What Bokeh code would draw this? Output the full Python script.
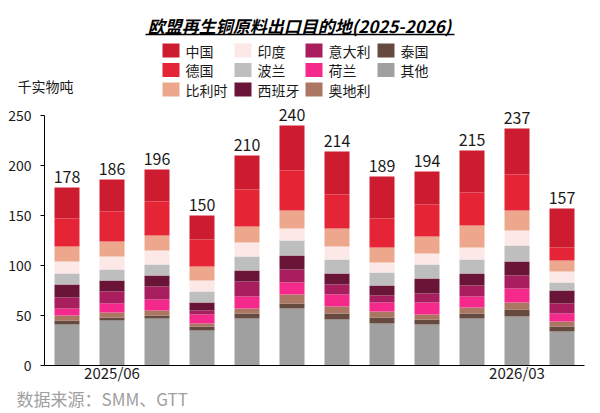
from bokeh.plotting import figure
from bokeh.models import Range1d, FixedTicker, ColumnDataSource
from bokeh.embed import file_html
from bokeh.resources import INLINE
from bokeh.core.properties import value

# ---------------- data ----------------
months = ["2025/05", "2025/06", "2025/07", "2025/08", "2025/09", "2025/10",
          "2025/11", "2025/12", "2026/01", "2026/02", "2026/03", "2026/04"]
tick_labels = ["2025/06", "2026/03"]
y_ticks = [0, 50, 100, 150, 200, 250]

# stack order bottom -> top
series = ["其他", "泰国", "奥地利", "荷兰", "意大利", "西班牙",
          "波兰", "印度", "比利时", "德国", "中国"]
colors = ["#A0A0A0", "#664A3F", "#AB7763", "#F5298C", "#A81E5E", "#6A1538",
          "#BEBEBE", "#FCE8E7", "#ECA78C", "#E52536", "#CD1C30"]

other    = [41, 45, 47, 35, 47, 57, 46, 42, 41, 47, 49, 34]
thailand = [4, 3, 3, 4, 5, 5, 6, 6, 5, 5, 7, 5]
austria  = [5, 5, 5, 3, 5, 9, 7, 6, 5, 6, 7, 5]
netherl  = [7, 9, 11, 9, 12, 12, 12, 9, 12, 11, 14, 8]
italy    = [11, 12, 13, 4, 15, 13, 10, 7, 9, 11, 13, 10]
spain    = [13, 11, 11, 8, 11, 14, 11, 10, 15, 12, 14, 13]
poland   = [11, 11, 11, 11, 14, 15, 14, 13, 14, 14, 16, 8]
india    = [12, 13, 14, 11, 14, 12, 13, 10, 11, 12, 15, 11]
belgium  = [15, 15, 15, 14, 16, 18, 18, 15, 17, 22, 20, 11]
germany  = [28, 30, 34, 27, 37, 40, 34, 29, 32, 33, 36, 13]
china    = [31, 32, 32, 24, 34, 45, 43, 42, 33, 42, 46, 39]

values = [other, thailand, austria, netherl, italy, spain,
          poland, india, belgium, germany, china]

title_text = "欧盟再生铜原料出口目的地(2025-2026)"
unit_text = "千实物吨"
source_text = "数据来源：SMM、GTT"

FONT = "Noto Sans CJK SC"
TXT = "#1a1a1a"

# ---------------- geometry: frame covers the whole canvas ----------------
W, H = 592, 410
AX_LEFT, AX_RIGHT, AX_BOTTOM, AX_TOP = 44, 584, 365, 115   # plot area in canvas px
NCAT = len(months)
SLOT = (AX_RIGHT - AX_LEFT) / NCAT          # px per category
Y_MAX = 250
PXY = (AX_BOTTOM - AX_TOP) / Y_MAX          # px per value unit


def xd(px):
    return (px - AX_LEFT) / SLOT - 0.5


def yd(py):
    return (AX_BOTTOM - py) / PXY


p = figure(width=W, height=H, output_backend="svg", toolbar_location=None,
           x_range=Range1d(xd(0), xd(W)), y_range=Range1d(yd(H), yd(0)),
           min_border=0, outline_line_color=None)
p.grid.visible = False

# ---------------- bars ----------------
idx = list(range(NCAT))
data = {"x": idx}
for name, vals in zip(series, values):
    data[name] = vals
totals = [sum(v[i] for v in values) for i in idx]
data["total"] = totals
data["label"] = [str(t) for t in totals]
src = ColumnDataSource(data)

p.vbar_stack(series, x="x", width=25 / SLOT, color=colors, line_color=None, source=src)
p.text(x="x", y="total", text="label", text_align="center", text_baseline="bottom",
       y_offset=-5, text_font=value(FONT), text_font_size="16px", text_color=TXT, source=src)

# ---------------- axes (fixed inside the full-canvas frame) ----------------
ya = p.yaxis[0]
ya.fixed_location = -0.5
ya.bounds = (0, Y_MAX)
ya.ticker = FixedTicker(ticks=y_ticks)
ya.minor_tick_line_color = None
ya.major_tick_out = 4
ya.major_tick_in = 0
ya.axis_line_color = "#000000"
ya.major_tick_line_color = "#000000"
ya.major_label_text_font = FONT
ya.major_label_text_font_size = "14px"
ya.major_label_text_color = TXT
ya.major_label_standoff = 9

xa = p.xaxis[0]
xa.fixed_location = 0
xa.bounds = (-0.5, NCAT - 0.5)
tick_pos = [months.index(t) for t in tick_labels]
xa.ticker = FixedTicker(ticks=tick_pos)
xa.major_label_overrides = {pos: lab for pos, lab in zip(tick_pos, tick_labels)}
xa.minor_tick_line_color = None
xa.major_tick_line_color = None
xa.major_tick_out = 0
xa.major_tick_in = 0
xa.axis_line_color = "#000000"
xa.major_label_text_font = FONT
xa.major_label_text_font_size = "15px"
xa.major_label_text_color = TXT
xa.major_label_standoff = -4

# ---------------- title, unit, source ----------------
p.text(x=[xd(299)], y=[yd(25)], text=[title_text], text_align="center",
       text_baseline="middle", text_font=value(FONT), text_font_size="17px",
       text_font_style="bold italic", text_color="#000000")
p.segment(x0=[xd(145)], y0=[yd(34)], x1=[xd(454)], y1=[yd(34)],
          line_color="#000000", line_width=1.4)
p.text(x=[xd(17)], y=[yd(85)], text=[unit_text], text_baseline="middle", text_align="left",
       text_font=value(FONT), text_font_size="14px", text_color=TXT)
p.text(x=[xd(16)], y=[yd(398)], text=[source_text], text_baseline="middle", text_align="left",
       text_font=value(FONT), text_font_size="17px", text_color="#A0A0A0")

# ---------------- legend (column-major, 3 rows) ----------------
leg_names = list(reversed(series))
leg_colors = list(reversed(colors))
COL_X = [162, 234, 305, 377]
lx, ly, tx = [], [], []
for i, _ in enumerate(leg_names):
    c, r = i // 3, i % 3
    lx.append(xd(COL_X[c] + 8.5))
    ly.append(yd(50 + 19.5 * r))
    tx.append(xd(COL_X[c] + 23))
leg_src = ColumnDataSource(dict(x=lx, y=ly, tx=tx, color=leg_colors, name=leg_names))
p.rect(x="x", y="y", width=17 / SLOT, height=14 / PXY, fill_color="color",
       line_color=None, source=leg_src)
p.text(x="tx", y="y", text="name", text_baseline="middle", text_align="left",
       text_font=value(FONT), text_font_size="14px", text_color=TXT, source=leg_src)

open("out.html", "w").write(file_html(p, INLINE))
